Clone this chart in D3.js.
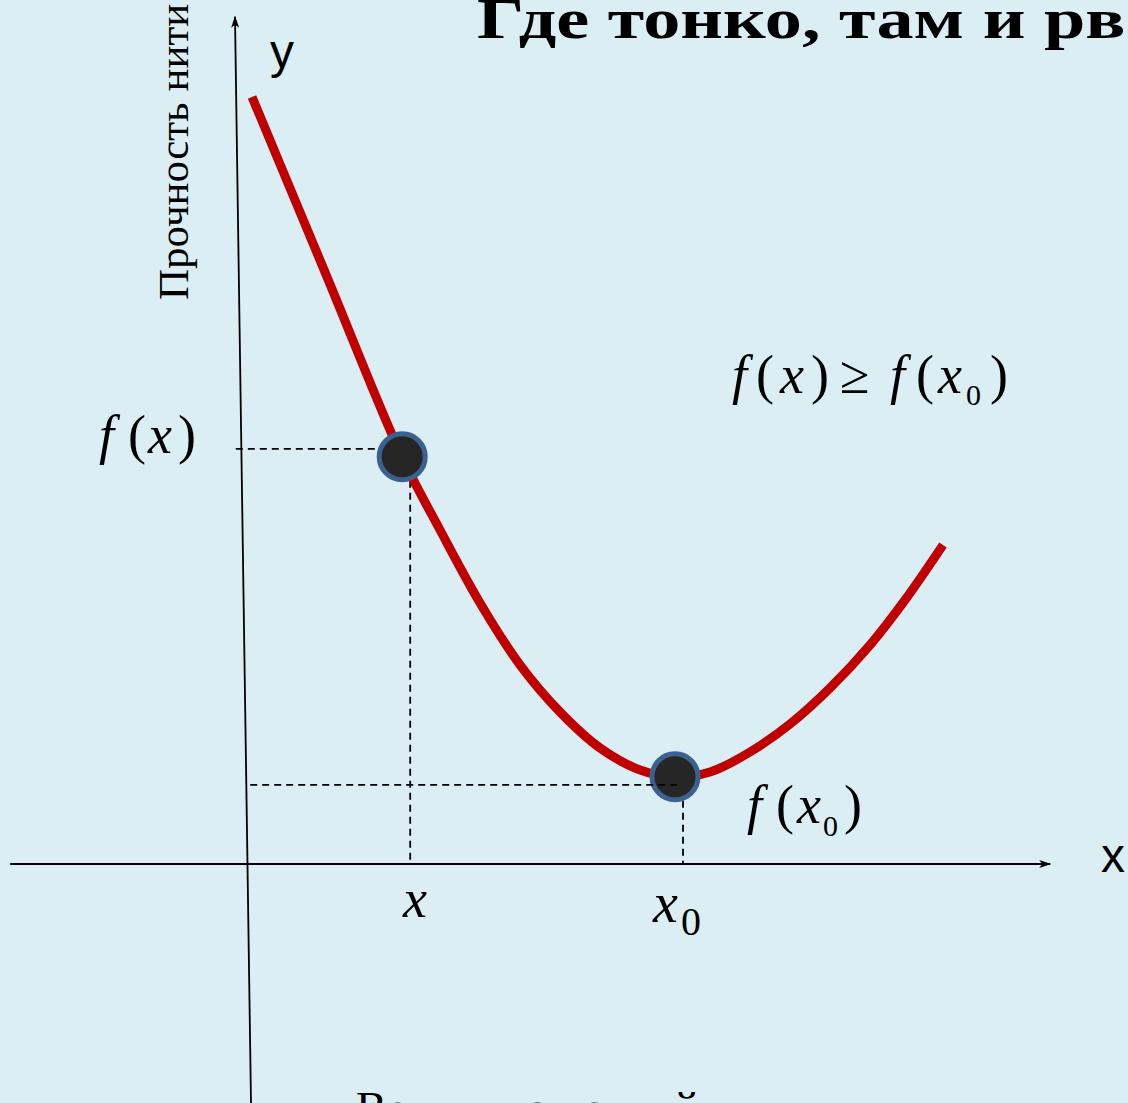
<!DOCTYPE html>
<html>
<head>
<meta charset="utf-8">
<script src="https://cdn.jsdelivr.net/npm/d3@7"></script>
<style>
  html, body { margin: 0; padding: 0; background: #daeef3; overflow: hidden; }
  svg { display: block; }
</style>
</head>
<body>
<script>
// ---- data ----
const curveX = [0.63, 10.0, 19.38, 24.13, 29.13, 34.13, 39.13, 44.13, 49.13, 53.5, 57.88, 62.88, 67.88, 72.88, 77.88, 82.25, 87.0];
const curveY = [95.88, 73.38, 50.88, 41.75, 32.63, 24.88, 19.0, 14.5, 11.75, 10.88, 11.5, 14.0, 17.5, 22.0, 27.38, 33.0, 39.88];
const pointX = [19.4, 53.5];
const pointY = [50.9, 10.9];
const guideX = [20.4, 54.5];
const guideY = [51.9, 9.9];
const guideStartX = [-1.4, 0.4];
const xAxisX = [-29.6, 100.4];
const yAxisX = [-1.5, 0.5];
const yAxisY = [105.9, -29.9];
const titleText = "Где тонко, там и рвётся";
const yLabelText = "Прочность нити";
const xLabelText = "Величина усилий";

// ---- layout ----
const W = 1128, H = 1103;
const x = d3.scaleLinear().domain([0, 100]).range([247, 1047]);
const y = d3.scaleLinear().domain([0, 100]).range([864, 64]);

const svg = d3.select("body").append("svg").attr("width", W).attr("height", H);
svg.append("rect").attr("width", W).attr("height", H).attr("fill", "#daeef3");

const defs = svg.append("defs");
defs.append("marker").attr("id", "arr")
  .attr("viewBox", "0 0 12 10").attr("refX", 11).attr("refY", 5)
  .attr("markerWidth", 12).attr("markerHeight", 10)
  .attr("markerUnits", "userSpaceOnUse").attr("orient", "auto")
  .append("path").attr("d", "M0,1 L12,5 L0,9 L3,5 Z").attr("fill", "#000");

const serif = "'Liberation Serif', 'Times New Roman', serif";
const sans = "'Liberation Sans', Arial, sans-serif";

// title (cut off at the right edge, as in the source slide)
svg.append("text").attr("transform", "translate(477,38) scale(1.28,1)")
  .attr("font-family", serif).attr("font-weight", "bold").attr("font-size", 58)
  .attr("fill", "#000").text(titleText);

// axes
svg.append("line")
  .attr("x1", x(xAxisX[0])).attr("y1", y(0)).attr("x2", x(xAxisX[1])).attr("y2", y(0))
  .attr("stroke", "#000").attr("stroke-width", 2).attr("marker-end", "url(#arr)");
svg.append("line")
  .attr("x1", x(yAxisX[1])).attr("y1", y(yAxisY[1])).attr("x2", x(yAxisX[0])).attr("y2", y(yAxisY[0]))
  .attr("stroke", "#000").attr("stroke-width", 1.8).attr("marker-end", "url(#arr)");

// guides (under points)
const dash = "7,5";
pointX.forEach((px, i) => {
  if (i === 0) {
    svg.append("line")
      .attr("x1", x(guideStartX[i])).attr("y1", y(guideY[i]))
      .attr("x2", x(px)).attr("y2", y(guideY[i]))
      .attr("stroke", "#000").attr("stroke-width", 1.8).attr("stroke-dasharray", dash);
  }
  svg.append("line")
    .attr("x1", x(guideX[i])).attr("y1", y(pointY[i]))
    .attr("x2", x(guideX[i])).attr("y2", y(0))
    .attr("stroke", "#000").attr("stroke-width", 1.8).attr("stroke-dasharray", dash);
});

// curve
const pts = curveX.map((v, i) => [v, curveY[i]]);
svg.append("path").datum(pts)
  .attr("d", d3.line().x(d => x(d[0])).y(d => y(d[1])).curve(d3.curveCatmullRom.alpha(0.5)))
  .attr("fill", "none").attr("stroke", "#c00000").attr("stroke-width", 9);

// points
svg.selectAll("circle.pt").data(pointX).join("circle").attr("class", "pt")
  .attr("cx", d => x(d)).attr("cy", (d, i) => y(pointY[i]))
  .attr("r", 23).attr("fill", "#262626").attr("stroke", "#3a6190").attr("stroke-width", 5);

// second horizontal guide drawn on top
svg.append("line")
  .attr("x1", x(guideStartX[1])).attr("y1", y(guideY[1]))
  .attr("x2", x(pointX[1]) + 5).attr("y2", y(guideY[1]))
  .attr("stroke", "#000").attr("stroke-width", 1.8).attr("stroke-dasharray", dash);

// axis letters
svg.append("text").attr("x", 270).attr("y", 68).attr("font-family", sans).attr("font-size", 48).text("y");
svg.append("text").attr("x", 1101).attr("y", 872).attr("font-family", sans).attr("font-size", 48).text("x");

// rotated y label
svg.append("text")
  .attr("transform", "translate(188,300) rotate(-90)")
  .attr("font-family", serif).attr("font-size", 43).text(yLabelText);

// bottom label (mostly cut off at the bottom edge)
svg.append("text").attr("x", 356).attr("y", 1124)
  .attr("font-family", serif).attr("font-size", 46).text(xLabelText);

// math labels
function formula(parts, baseline) {
  const t = svg.append("text").attr("font-family", serif).attr("fill", "#000");
  parts.forEach(p => {
    t.append("tspan").attr("x", p[1]).attr("y", baseline + (p[4] || 0))
      .attr("font-size", p[3] || 54)
      .attr("font-style", p[2] ? "italic" : "normal")
      .text(p[0]);
  });
}
formula([["f", 99, 1], ["(", 128, 0], ["x", 148, 1], [")", 178, 0]], 453);
formula([["f", 732, 1], ["(", 756, 0], ["x", 780, 1], [")", 811, 0], ["≥", 840, 0],
         ["f", 890, 1], ["(", 916, 0], ["x", 938, 1], ["0", 966, 0, 30, 12], [")", 990, 0]], 393);
formula([["f", 747, 1], ["(", 776, 0], ["x", 797, 1], ["0", 823, 0, 30, 13], [")", 844, 0]], 823);
formula([["x", 403, 1]], 917);
formula([["x", 653, 1, 56], ["0", 681, 0, 40, 13]], 922);
</script>
</body>
</html>
